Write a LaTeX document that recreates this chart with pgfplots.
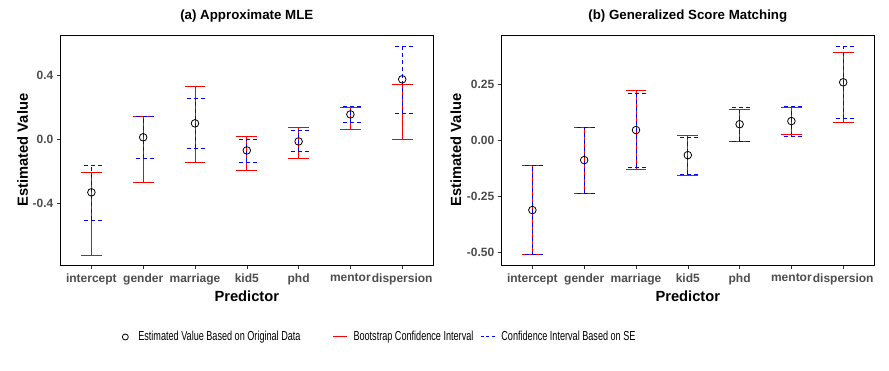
\documentclass[border=0pt]{standalone}
\usepackage{fontspec}
\setmainfont{Liberation Sans}
\newfontfamily\legfont[FakeStretch=0.7]{Liberation Sans}
\usepackage{pgfplots}
\usepackage{pgfplotstable}
\pgfplotsset{compat=1.18}
\definecolor{ticktext}{HTML}{4D4D4D}
\definecolor{tickline}{HTML}{333333}
\definecolor{cired}{HTML}{FF0000}
\definecolor{ciblue}{HTML}{0000FF}

% x est: point estimate; blo/bhi: bootstrap CI; slo/shi: CI based on SE
\pgfplotstableread{
x est blo bhi slo shi
1 -0.331 -0.725 -0.206 -0.506 -0.163
2 0.013 -0.269 0.144 -0.119 0.144
3 0.100 -0.144 0.331 -0.056 0.256
4 -0.069 -0.194 0.019 -0.144 0.000
5 -0.013 -0.119 0.075 -0.075 0.056
6 0.156 0.063 0.200 0.106 0.206
7 0.375 0.000 0.344 0.163 0.581
}\mle
\pgfplotstableread{
x est blo bhi slo shi
1 -0.312 -0.509 -0.111 -0.512 -0.111
2 -0.089 -0.239 0.058 -0.236 0.058
3 0.045 -0.129 0.223 -0.120 0.209
4 -0.067 -0.156 0.021 -0.151 0.013
5 0.071 -0.005 0.138 -0.005 0.146
6 0.085 0.025 0.147 0.018 0.150
7 0.258 0.080 0.392 0.095 0.419
}\gsm

\pgfplotsset{
  ciplot/.style={
    scale only axis, width=373pt, height=230pt,
    anchor=south west, clip=false,
    xmin=0.4, xmax=7.6,
    xtick={1,...,7},
    xticklabels={intercept,gender,marriage,kid5,phd,mentor,dispersion},
    tick align=outside, major tick length=3.5pt,
    tick style={tickline, line width=0.5pt},
    xtick pos=bottom, ytick pos=left,
    ticklabel style={font=\fontsize{12}{14}\selectfont\bfseries, text=ticktext},
    xticklabel style={yshift=-1.5pt},
    axis line style={black, line width=0.8pt},
    title style={font=\fontsize{13.3}{15}\selectfont\bfseries,
                 at={(0.5,1)}, anchor=base, yshift=9.2pt},
    xlabel={Predictor}, ylabel={Estimated Value},
    xlabel style={font=\fontsize{14.7}{17}\selectfont\bfseries,
                  at={(0.5,0)}, anchor=base, yshift=-36.5pt},
  },
  bootbar/.style={forget plot, cired, line width=0.9pt, solid, mark=none},
  sebar/.style={forget plot, ciblue, line width=0.9pt, dash pattern=on 4pt off 3pt, mark=none},
  bootcap/.style={forget plot, only marks, mark=-, mark size=10.4pt,
    mark options={draw=cired, line width=0.9pt, solid}},
  secap/.style={forget plot, only marks, mark=-, mark size=10.4pt,
    mark options={draw=ciblue, line width=0.9pt, dash pattern=on 4pt off 3pt}},
  estpt/.style={forget plot, only marks, mark=o, black, mark size=3.8pt,
    mark options={line width=0.8pt}},
}
% one CI: vertical segment (quiver from lower to upper) plus both caps
\newcommand\drawci[4]{% table, lower col, upper col, style prefix
  \addplot[#4bar, quiver={u=0, v=\thisrow{#3}-\thisrow{#2}}]
    table[x=x, y=#2] {#1};
  \addplot[#4cap] table[x=x, y=#2] {#1};
  \addplot[#4cap] table[x=x, y=#3] {#1};
}

\begin{document}
\begin{tikzpicture}
\path[use as bounding box] (0pt,0pt) rectangle (889pt,370pt);

\begin{axis}[ciplot, at={(60.3pt,105pt)},
  title={(a) Approximate MLE},
  ymin=-0.785, ymax=0.652,
  ytick={-0.4,0,0.4}, yticklabels={-0.4,0.0,0.4},
  ylabel style={font=\fontsize{14.7}{17}\selectfont\bfseries,
                at={(axis description cs:-0.0871,0.5)}, anchor=base},
  legend columns=3,
  legend style={draw=none, fill=none, at={(0.155,-0.313)}, anchor=west,
    inner sep=0pt, font=\legfont\fontsize{13}{15}\selectfont,
    /tikz/column 1/.style={column sep=4pt},
    /tikz/column 2/.style={column sep=30pt},
    /tikz/column 3/.style={column sep=4pt},
    /tikz/column 4/.style={column sep=5pt},
    /tikz/column 5/.style={column sep=4pt}},
]
\drawci{\mle}{blo}{bhi}{boot}
\drawci{\mle}{slo}{shi}{se}
\addplot[estpt] table[x=x, y=est] {\mle};
\addlegendimage{legend image code/.code={\draw[draw=black, line width=0.8pt] (7pt,0pt) circle[radius=3pt]; \path[draw=none] (0pt,-3pt) rectangle (14pt,3pt);}}
\addlegendentry{Estimated Value Based on Original Data}
\addlegendimage{legend image code/.code={\draw[draw=cired, line width=1pt] (0pt,0pt) -- (14pt,0pt);}}
\addlegendentry{Bootstrap Confidence Interval}
\addlegendimage{legend image code/.code={\draw[draw=ciblue, line width=1pt, dash pattern=on 3pt off 2.5pt] (0pt,0pt) -- (14pt,0pt);}}
\addlegendentry{Confidence Interval Based on SE}
\end{axis}

\begin{axis}[ciplot, at={(501.3pt,105pt)},
  title={(b) Generalized Score Matching},
  ymin=-0.557, ymax=0.469,
  ytick={-0.5,-0.25,0,0.25}, yticklabels={-0.50,-0.25,0.00,0.25},
  ylabel style={font=\fontsize{14.7}{17}\selectfont\bfseries,
                at={(axis description cs:-0.1078,0.5)}, anchor=base},
]
\drawci{\gsm}{blo}{bhi}{boot}
\drawci{\gsm}{slo}{shi}{se}
\addplot[estpt] table[x=x, y=est] {\gsm};
\end{axis}
\end{tikzpicture}
\end{document}
